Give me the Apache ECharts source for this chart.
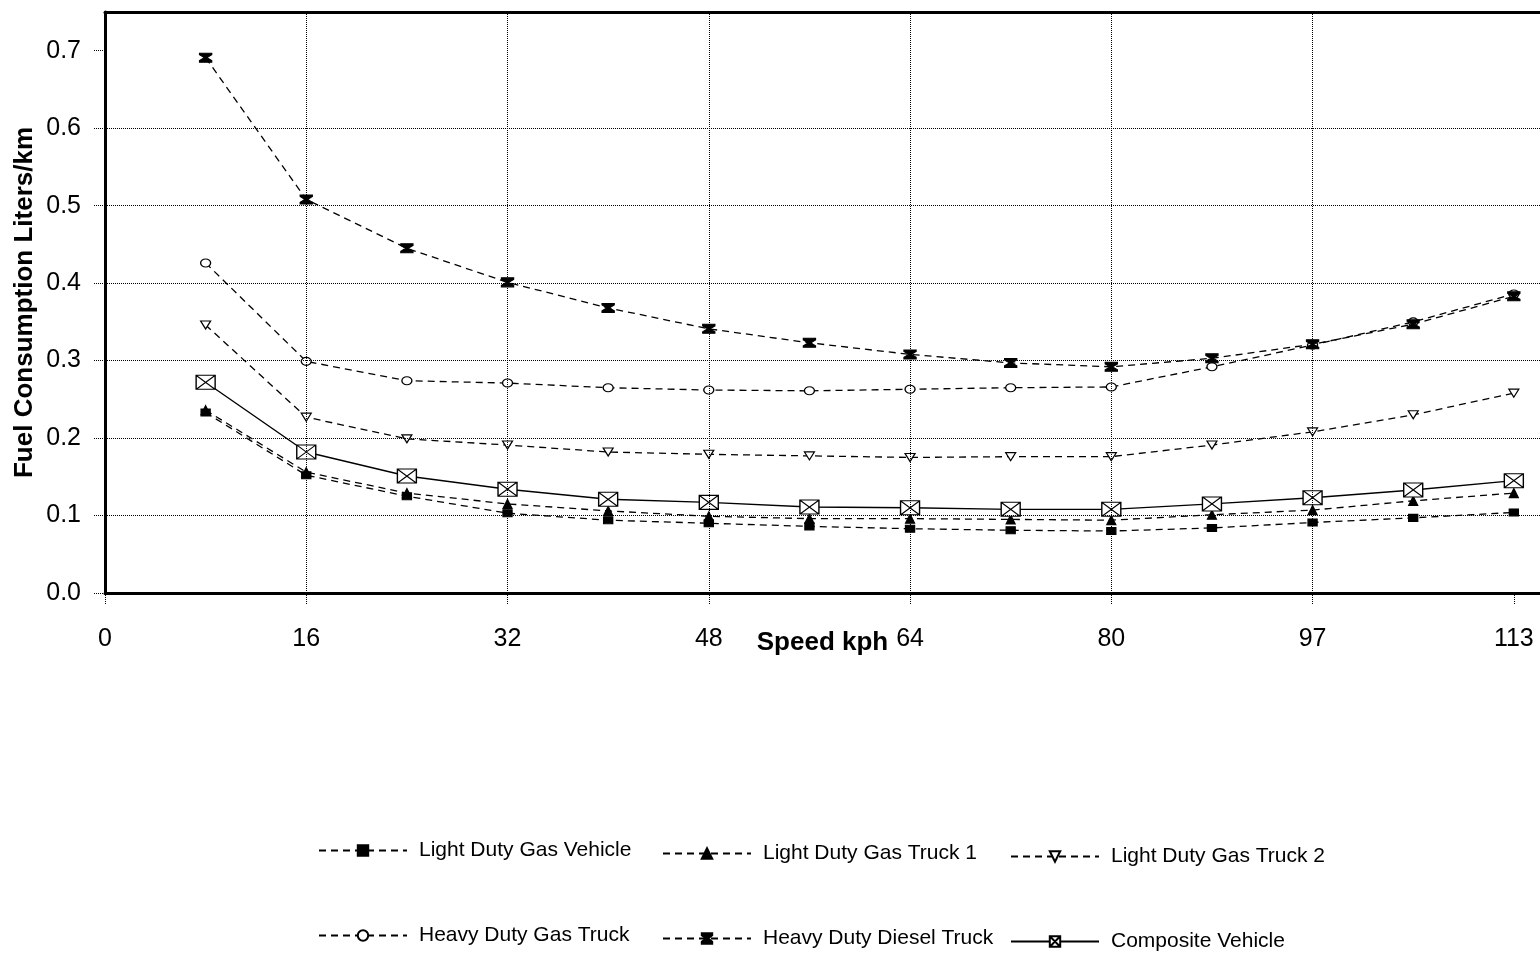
<!DOCTYPE html>
<html><head><meta charset="utf-8">
<script src="https://cdn.jsdelivr.net/npm/echarts@6/dist/echarts.min.js"></script>
<style>html,body{margin:0;padding:0;background:#fff}#c{width:1540px;height:953px}</style>
</head><body><div id="c"></div>
<script>
// Speeds (mph steps, labelled in kph)
const speedMph = [5, 10, 15, 20, 25, 30, 35, 40, 45, 50, 55, 60, 65, 70];
const xTickValues = [0, 10, 20, 30, 40, 50, 60, 70];
const xTickLabels = ['0', '16', '32', '48', '64', '80', '97', '113'];
const yTickValues = [0, 0.1, 0.2, 0.3, 0.4, 0.5, 0.6, 0.7];
const xGridValues = [10, 20, 30, 40, 50, 60];
const yGridValues = [0.1, 0.2, 0.3, 0.4, 0.5, 0.6];

const seriesNames = ['Light Duty Gas Vehicle', 'Light Duty Gas Truck 1', 'Light Duty Gas Truck 2',
  'Heavy Duty Gas Truck', 'Heavy Duty Diesel Truck', 'Composite Vehicle'];
const ldgv  = [0.233, 0.152, 0.125, 0.103, 0.094, 0.090, 0.086, 0.083, 0.081, 0.080, 0.084, 0.091, 0.097, 0.104];
const ldgt1 = [0.236, 0.156, 0.129, 0.115, 0.106, 0.099, 0.096, 0.096, 0.095, 0.094, 0.101, 0.107, 0.119, 0.129];
const ldgt2 = [0.346, 0.227, 0.199, 0.191, 0.182, 0.179, 0.177, 0.175, 0.176, 0.176, 0.191, 0.208, 0.230, 0.258];
const hdgt  = [0.426, 0.299, 0.274, 0.271, 0.265, 0.262, 0.261, 0.263, 0.265, 0.266, 0.292, 0.320, 0.350, 0.386];
const hddt  = [0.691, 0.508, 0.445, 0.401, 0.368, 0.341, 0.323, 0.308, 0.297, 0.292, 0.303, 0.321, 0.347, 0.383];
const comp  = [0.272, 0.182, 0.151, 0.134, 0.121, 0.117, 0.111, 0.110, 0.108, 0.108, 0.115, 0.123, 0.133, 0.145];

const FONT = 'Liberation Sans, Arial, sans-serif';
const pair = (vals) => speedMph.map((s, i) => [s, vals[i]]);
const dash = [7, 5];

function mk(name, vals, sym, size, fill, solid, extra) {
  return Object.assign({
    name, type: 'line', data: pair(vals),
    symbol: sym, symbolSize: size, showAllSymbol: true,
    lineStyle: { color: '#000', width: solid ? 1.4 : 1.3, type: solid ? 'solid' : dash },
    itemStyle: { color: fill, borderColor: '#000', borderWidth: 1.2, opacity: 1 },
    emphasis: { disabled: true }
  }, extra || {});
}

const boxX = 'path://M0,0L20,0L20,14L0,14Z M0,0L20,14 M20,0L0,14';
const hourglass = 'path://M0,0L10,0L10,1.8L6,5L10,8.2L10,10L0,10L0,8.2L4,5L0,1.8Z';

const series = [
  mk(seriesNames[0], ldgv, 'rect', [9, 7], '#000', false, {
    markLine: {
      silent: true, symbol: ['none', 'none'], label: { show: false },
      lineStyle: { type: 'dotted', color: '#000', width: 1 },
      emphasis: { disabled: true },
      data: xGridValues.map(v => ({ xAxis: v })).concat(yGridValues.map(v => ({ yAxis: v })))
    }
  }),
  mk(seriesNames[1], ldgt1, 'triangle', [9, 9], '#000', false),
  mk(seriesNames[2], ldgt2, 'triangle', [10, 8], '#fff', false, { symbolRotate: 180 }),
  mk(seriesNames[3], hdgt, 'circle', [10, 8], '#fff', false),
  mk(seriesNames[4], hddt, hourglass, [12, 9], '#000', false),
  mk(seriesNames[5], comp, boxX, [19, 14], '#fff', true)
];

const legendPos = [
  [318, 850], [662, 853], [1010, 856],
  [318, 935], [662, 938], [1010, 941]
];
const legends = seriesNames.map((n, i) => ({
  data: [n], left: legendPos[i][0], top: legendPos[i][1] - 10, padding: 0,
  itemWidth: 88, itemHeight: 13, selectedMode: false,
  textStyle: { fontFamily: FONT, fontSize: 21, color: '#000', padding: [0, 0, 0, 7] }
}));

const frameLine = { show: true, lineStyle: { color: '#000', width: 3 } };

const chart = echarts.init(document.getElementById('c'), null, { renderer: 'canvas' });
chart.setOption({
  animation: false,
  backgroundColor: '#fff',
  grid: { left: 105, right: 0, top: 12, bottom: 360, show: false },
  legend: legends,
  xAxis: [{
    type: 'value', min: 0, max: 71.3,
    axisLine: frameLine,
    axisTick: { show: true, customValues: xTickValues, length: 11, lineStyle: { type: 'dotted', color: '#000', width: 1 } },
    axisLabel: { customValues: xTickValues, formatter: v => xTickLabels[xTickValues.indexOf(v)], fontSize: 25, margin: 34, color: '#000', fontFamily: FONT },
    splitLine: { show: false },
    name: 'Speed kph', nameLocation: 'middle', nameGap: 37, nameMoveOverlap: false,
    nameTextStyle: { fontFamily: FONT, fontSize: 26, fontWeight: 'bold', color: '#000' }
  }, {
    type: 'value', min: 0, max: 71.3, position: 'top',
    axisLine: frameLine, axisTick: { show: false }, axisLabel: { show: false }, splitLine: { show: false }
  }],
  yAxis: {
    type: 'value', min: 0, max: 0.75,
    axisLine: frameLine,
    axisTick: { show: true, customValues: yTickValues, length: 11, lineStyle: { type: 'dotted', color: '#000', width: 1 } },
    axisLabel: { customValues: yTickValues, formatter: v => v.toFixed(1), fontSize: 25, margin: 24, color: '#000', fontFamily: FONT },
    splitLine: { show: false },
    name: 'Fuel Consumption Liters/km', nameLocation: 'middle', nameGap: 67, nameMoveOverlap: false,
    nameTextStyle: { fontFamily: FONT, fontSize: 26, fontWeight: 'bold', color: '#000' }
  },
  series
});
</script></body></html>
